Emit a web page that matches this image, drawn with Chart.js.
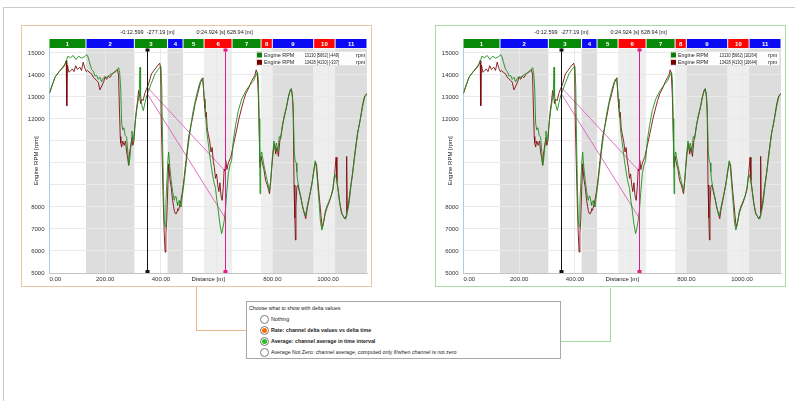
<!DOCTYPE html>
<html>
<head>
<meta charset="utf-8">
<script src="https://cdn.jsdelivr.net/npm/chart.js@4.4.1/dist/chart.umd.min.js"></script>
<style>
  html, body { margin: 0; padding: 0; background: #fff; }
  body { width: 795px; height: 401px; position: relative; overflow: hidden;
         font-family: "Liberation Sans", Arial, sans-serif; color: #222; }
  .rule { position: absolute; background: #c9c9c9; }
  .panel { position: absolute; top: 25px; width: 349px; height: 260px; border: 1px solid; }
  .panel canvas { display: block; }
  #panelRate { left: 21px; border-color: #e9c7a0; }
  #panelAvg  { left: 435px; border-color: #a6dca6; }
  .link { position: absolute; }
  #dlg { position: absolute; left: 246px; top: 301px; width: 313px; height: 56px;
         border: 1px solid #a9a9a9; background: #fff; }
  #dlg .t { position: absolute; left: 2px; top: 3px; font-size: 5.3px; line-height: 7px; white-space: nowrap; }
  #dlg .opt { position: absolute; left: 13px; height: 9px; white-space: nowrap; }
  #dlg .rb { position: absolute; left: 0; top: 0; width: 7px; height: 7px; border: 1px solid #7a7a7a;
             border-radius: 50%; background: #fff; }
  #dlg .rb i { position: absolute; left: 1px; top: 1px; width: 5px; height: 5px; border-radius: 50%; }
  #dlg .lbl { position: absolute; left: 11px; top: 1px; font-size: 5.3px; line-height: 7px; }
  #dlg .b { font-weight: bold; }
</style>
</head>
<body>
<div class="rule" style="left:3px;top:7px;width:792px;height:1px"></div>
<div class="rule" style="left:3px;top:7px;width:1px;height:394px"></div>

<div class="panel" id="panelRate"><canvas id="chartRate" width="349" height="260"></canvas></div>
<div class="panel" id="panelAvg"><canvas id="chartAvg" width="349" height="260"></canvas></div>

<!-- connectors from each panel to its option in the selector -->
<div class="link" style="left:196px;top:287px;width:1px;height:43px;background:#e6b98c"></div>
<div class="link" style="left:196px;top:330px;width:63px;height:1px;background:#e6b98c"></div>
<div class="link" style="left:610px;top:288px;width:1px;height:53px;background:#9fda9f"></div>
<div class="link" style="left:373px;top:341px;width:238px;height:1px;background:#9fda9f"></div>

<div id="dlg">
  <div class="t">Choose what to show with delta values</div>
  <div class="opt" style="top:13px"><span class="rb"></span><span class="lbl">Nothing</span></div>
  <div class="opt" style="top:24px"><span class="rb"><i style="background:#ff6a00"></i></span><span class="lbl b">Rate: channel delta values vs delta time</span></div>
  <div class="opt" style="top:35px"><span class="rb"><i style="background:#22c322"></i></span><span class="lbl b">Average: channel average in time interval</span></div>
  <div class="opt" style="top:46px"><span class="rb"></span><span class="lbl">Average Not Zero: channel average, computed only if/when channel is not zero</span></div>
</div>

<script>
// Lap segments along the distance axis
const segmentLabels = ['1', '2', '3', '4', '5', '6', '7', '8', '9', '10', '11'];
const segmentEnds = [131, 304.6, 424, 479.5, 555, 655.5, 759.7, 800, 948.6, 1025.5, 1140];
const segmentKinds = ['g', 'b', 'g', 'b', 'g', 'r', 'g', 'r', 'b', 'r', 'b'];

// Axis ticks (the last x tick only closes the axis and carries no label)
const xTicks = [0, 200, 400, 600, 800, 1000, 1140];
const yTicks = [5000, 6000, 7000, 8000, 9000, 10000, 11000, 12000, 13000, 14000, 15000];
const yTicksUnlabeled = [9000, 10000, 11000];

// Cursors (distance in m) and their readouts
const cursorDist = [351.75, 628.94];
const cursorText = ['-0:12.599  -277.19 [m]', '0:24.924 [s] 628.94 [m]'];

// Engine RPM, lap 1 (green)
const greenDist = [
  0, 10, 20, 35, 50, 56, 62, 66, 75, 85,
  95, 105, 115, 125, 134, 139, 143, 151, 158, 163,
  169, 175, 181, 187, 193, 199, 207, 215, 223, 230,
  237, 244, 248, 252, 256, 259, 263, 267, 272, 277,
  281, 285, 289, 293, 296, 299, 303, 308, 313, 318,
  322, 325, 327, 332, 337, 343, 349, 355, 365, 379,
  390, 400, 403, 406, 409, 412, 415, 418, 421, 425,
  428, 432, 437, 442, 448, 452, 455, 458, 460, 463,
  466, 469, 472, 478, 484, 490, 496, 505, 514, 523,
  532, 540, 546, 551, 555, 560, 565, 570, 578, 585,
  590, 596, 601, 606, 612, 618, 622, 627, 632, 636,
  642, 648, 654, 660, 668, 678, 690, 706, 720, 733,
  740, 747, 750, 753, 755, 756, 758, 762, 766, 770,
  778, 785, 790, 795, 800, 806, 810, 815, 820, 825,
  830, 835, 842, 850, 856, 862, 868, 872, 876, 879,
  882, 886, 888, 890, 895, 900, 906, 912, 918, 922,
  928, 935, 942, 948, 954, 958, 963, 968, 973, 978,
  983, 990, 998, 1005, 1012, 1018, 1024, 1030, 1036, 1042,
  1048, 1052, 1058, 1064, 1070, 1076, 1082, 1088, 1096, 1106,
  1115, 1125, 1132, 1140
];
const greenRpm = [
  13200, 13550, 13900, 14150, 14400, 14500, 14700, 14850, 14780, 14880,
  14700, 14850, 14760, 14820, 14920, 14800, 14600, 14250, 14150, 13950,
  13980, 13800, 13900, 13680, 13850, 13920, 13880, 14000, 14050, 14100,
  14180, 14250, 14330, 14100, 13300, 11800, 11500, 11600, 11250, 11170,
  10500, 9900, 10300, 10900, 11450, 11000, 11200, 11900, 12380, 12800,
  13100, 14350, 13050, 12600, 12380, 12750, 13050, 13250, 13600, 14050,
  14250, 14400, 13500, 11000, 9000, 7400, 7100, 8200, 9050, 10100,
  10490, 9800, 9200, 8700, 8300, 8500, 8450, 8200, 8070, 8250,
  8300, 8100, 8000, 8600, 9200, 9900, 10570, 11450, 12230, 12800,
  13290, 13650, 13820, 13650, 13100, 12300, 11400, 10900, 10100, 9500,
  9150, 8850, 8300, 7850, 7200, 6790, 7000, 7350, 7900, 8600,
  9510, 9900, 10110, 11020, 11700, 12380, 12900, 13290, 13550, 13740,
  13950, 14120, 13800, 12000, 10000, 8600, 10300, 10500, 10200, 9900,
  9400, 9000, 8750, 9300, 10200, 11000, 10600, 10900, 10500, 11200,
  11100, 11600, 12100, 12500, 12900, 13200, 13370, 13000, 12000, 10500,
  10100, 10000, 9600, 9300, 8900, 8600, 8200, 7850, 7600, 7800,
  8200, 8600, 9000, 9600, 10100, 9800, 9000, 8200, 7300, 6950,
  7200, 7800, 8100, 8300, 8500, 8900, 9500, 9300, 8800, 8200,
  7800, 7650, 7500, 7450, 7800, 8200, 8900, 9500, 10300, 11330,
  11920, 12600, 13000, 13150
];

// Engine RPM, lap 2 (dark red)
const redDist = [
  0, 10, 20, 35, 50, 56, 60, 62, 64, 70,
  76, 82, 88, 94, 100, 109, 115, 121, 127, 132,
  136, 145, 151, 157, 163, 169, 175, 181, 186, 191,
  195, 199, 205, 211, 217, 223, 230, 237, 244, 248,
  251, 254, 256, 259, 263, 268, 273, 277, 281, 284,
  287, 291, 296, 299, 303, 307, 311, 316, 320, 324,
  327, 331, 336, 342, 348, 355, 366, 375, 384, 390,
  396, 399, 401, 405, 409, 412, 415, 418, 421, 425,
  428, 432, 437, 442, 448, 452, 455, 458, 460, 463,
  466, 472, 478, 484, 490, 500, 514, 523, 532, 542,
  551, 553, 555, 558, 560, 563, 566, 570, 575, 580,
  584, 588, 592, 596, 600, 604, 608, 612, 616, 620,
  624, 627, 630, 633, 637, 642, 651, 660, 669, 680,
  690, 697, 705, 715, 725, 733, 738, 742, 746, 750,
  753, 756, 760, 764, 770, 776, 782, 786, 790, 794,
  798, 803, 808, 812, 817, 822, 827, 832, 838, 845,
  852, 858, 864, 868, 872, 875, 878, 881, 883, 885,
  888, 892, 897, 903, 909, 915, 920, 925, 931, 937,
  944, 950, 955, 959, 964, 969, 975, 979, 984, 990,
  997, 1004, 1011, 1018, 1024, 1029, 1032, 1037, 1043, 1049,
  1054, 1060, 1065, 1067, 1069, 1075, 1081, 1088, 1096, 1106,
  1115, 1125, 1132, 1140
];
const redRpm = [
  13150, 13550, 13900, 14150, 14350, 14500, 14650, 12600, 14450, 14120,
  14200, 14270, 14150, 14420, 14250, 14350, 14200, 14580, 14300, 14150,
  14200, 14100, 14050, 13900, 13820, 13750, 13670, 13320, 13450, 13590,
  13700, 13900, 13800, 13950, 13880, 14000, 14100, 14150, 14230, 14000,
  12500, 11200, 10900, 10720, 11000, 10800, 11000, 10500, 10200, 9890,
  10400, 10720, 11150, 10800, 11000, 11700, 12300, 12800, 13290, 13000,
  12700, 12900, 12830, 13150, 13350, 13550, 14050, 14200, 14350, 14450,
  14530, 14300, 12080, 10000, 8000, 6800, 5950, 6800, 7390, 9000,
  9960, 9300, 8900, 8300, 7840, 7700, 7690, 7800, 7920, 7850,
  8000, 8300, 8750, 9400, 10110, 11200, 12080, 12700, 13140, 13650,
  13870, 13400, 12900, 12500, 12080, 12300, 11600, 11300, 11000, 10500,
  10700, 10100, 9800, 9300, 9500, 9000, 8700, 9100, 8500, 8300,
  8900, 9700, 9640, 10110, 9700, 10000, 10260, 10800, 11320, 12000,
  12500, 12840, 13150, 13400, 13700, 13890, 14000, 14230, 14100, 13000,
  11300, 9800, 10300, 10000, 9700, 9200, 9000, 8800, 8600, 9100,
  9800, 10500, 10900, 10400, 10700, 10300, 11000, 11300, 11800, 12200,
  12600, 13000, 13300, 13370, 13100, 12500, 9000, 7500, 6500, 8000,
  8900, 9000, 8700, 8400, 8000, 7700, 7470, 7900, 8300, 8700,
  9200, 9700, 10040, 9900, 9100, 8400, 7600, 7090, 7300, 7700,
  8000, 8200, 8500, 8800, 9510, 10260, 9200, 8700, 8100, 7700,
  7600, 7470, 7600, 10300, 7800, 8300, 8900, 9510, 10400, 11330,
  11920, 12700, 13050, 13150
];

// Values read at the two cursors, joined by the delta lines
const greenCursorRpm = [13130, 7540];
const redCursorRpm = [13428, 9660];

// Legend rows per panel
const legendNames = ['Engine RPM', 'Engine RPM'];
const legendRate = ['13130 [5662] [-449]', '13428 [4130] [-337]'];
const legendAvg = ['13130 [5662] [10264]', '13428 [4130] [10644]'];

const PINK = '#e01d8d';
const segColor = { g: '#078a07', b: '#0a0af5', r: '#fb0606' };
const bandColor = { b: '#dddddd', r: '#eeeeee' };
const FONT = '"Liberation Sans", Arial, sans-serif';

Chart.defaults.font.family = FONT;
Chart.defaults.font.size = 6;
Chart.defaults.color = '#333';

const toPoints = (xs, ys) => xs.map((x, i) => ({ x, y: ys[i] }));

// text squeezed horizontally by sx, anchored at (x, y)
function narrowText(ctx, text, x, y, sx, align) {
  ctx.save();
  ctx.translate(x, y);
  ctx.scale(sx, 1);
  ctx.textAlign = align;
  ctx.fillText(text, 0, 0);
  ctx.restore();
}

const panelDeco = {
  id: 'panelDeco',
  beforeDraw(chart) {
    const { ctx, chartArea: a, scales: { x } } = chart;
    ctx.save();
    let start = 0;
    segmentEnds.forEach((end, i) => {
      const c = bandColor[segmentKinds[i]];
      if (c) {
        const x0 = x.getPixelForValue(start), x1 = x.getPixelForValue(end);
        ctx.fillStyle = c;
        ctx.fillRect(x0, a.top, x1 - x0, a.bottom - a.top);
      }
      start = end;
    });
    ctx.restore();
  },
  afterDatasetsDraw(chart) {
    const { ctx, chartArea: a, scales: { x } } = chart;
    ctx.save();
    [['#111', cursorDist[0]], [PINK, cursorDist[1]]].forEach(([col, d]) => {
      const px = Math.round(x.getPixelForValue(d)) + 0.5;
      ctx.strokeStyle = col;
      ctx.lineWidth = 1;
      ctx.beginPath();
      ctx.moveTo(px, a.top);
      ctx.lineTo(px, a.bottom);
      ctx.stroke();
      ctx.fillStyle = col;
      ctx.fillRect(px - 2, a.top, 4, 3);
      ctx.fillRect(px - 2, a.bottom - 3, 4, 3);
    });
    ctx.restore();
  },
  afterDraw(chart, args, opts) {
    const { ctx, chartArea: a, scales: { x } } = chart;
    ctx.save();
    // segment bar
    const barTop = a.top - 9.5, barH = 9;
    let start = 0;
    ctx.textAlign = 'center';
    ctx.textBaseline = 'middle';
    segmentEnds.forEach((end, i) => {
      const x0 = x.getPixelForValue(start) + (i ? 0.5 : 0);
      const x1 = x.getPixelForValue(end) - 0.5;
      ctx.fillStyle = segColor[segmentKinds[i]];
      ctx.fillRect(x0, barTop, x1 - x0, barH);
      ctx.fillStyle = '#fff';
      ctx.font = 'bold 6px ' + FONT;
      ctx.fillText(segmentLabels[i], (x0 + x1) / 2, barTop + barH / 2 + 0.5);
      start = end;
    });
    // cursor readouts
    ctx.fillStyle = '#222';
    ctx.font = '6px ' + FONT;
    cursorDist.forEach((d, i) => {
      narrowText(ctx, cursorText[i], x.getPixelForValue(d), 6.5, 0.92, 'center');
    });
    // axis titles
    ctx.fillText('Distance [m]', (a.left + a.right) / 2, a.bottom + 6.5);
    ctx.save();
    ctx.translate(14.5, (a.top + a.bottom) / 2);
    ctx.rotate(-Math.PI / 2);
    ctx.fillText('Engine RPM [rpm]', 0, 0);
    ctx.restore();
    // legend
    const lx = a.right - 111, ly = a.top + 2.5;
    ctx.fillStyle = 'rgba(255,255,255,0.92)';
    ctx.fillRect(lx, ly, 110, 15);
    ctx.strokeStyle = '#e4e4e4';
    ctx.strokeRect(lx + 0.5, ly + 0.5, 109, 14);
    ['#0b7d0b', '#7a0000'].forEach((col, i) => {
      const cy = ly + 4 + i * 7.3;
      ctx.fillStyle = col;
      ctx.fillRect(lx + 1, cy - 2.5, 5, 5);
      ctx.fillStyle = '#222';
      narrowText(ctx, legendNames[i], lx + 8, cy + 0.5, 0.9, 'left');
      narrowText(ctx, opts.values[i], lx + opts.valueEnd, cy + 0.5, 0.66, 'right');
      narrowText(ctx, 'rpm', lx + opts.unitAt, cy + 0.5, 0.9, 'left');
    });
    ctx.restore();
  }
};

function makePanel(canvasId, legendValues, valueEnd, unitAt) {
  return new Chart(document.getElementById(canvasId), {
    type: 'line',
    data: {
      datasets: [
        { data: toPoints(greenDist, greenRpm), borderColor: 'rgba(31,143,31,0.9)', borderWidth: 1, pointRadius: 0 },
        { data: toPoints(redDist, redRpm), borderColor: 'rgba(125,10,10,0.88)', borderWidth: 1, pointRadius: 0 },
        { data: toPoints(cursorDist, greenCursorRpm), borderColor: 'rgba(222,96,190,0.9)', borderWidth: 1, pointRadius: 0 },
        { data: toPoints(cursorDist, redCursorRpm), borderColor: 'rgba(222,96,190,0.9)', borderWidth: 1, pointRadius: 0 }
      ]
    },
    options: {
      responsive: false,
      animation: false,
      events: [],
      parsing: false,
      layout: { padding: { top: 22.5, right: 4, left: 0, bottom: 0 } },
      plugins: {
        legend: { display: false },
        tooltip: { enabled: false },
        panelDeco: { values: legendValues, valueEnd, unitAt }
      },
      scales: {
        x: {
          type: 'linear', min: 0, max: 1140,
          afterBuildTicks: s => { s.ticks = xTicks.map(v => ({ value: v })); },
          afterFit: s => { s.height = 13; },
          grid: { color: ctx => (ctx.tick && ctx.tick.value === 1140 ? 'rgba(0,0,0,0)' : '#e9e9e9'), drawTicks: false },
          border: { color: '#c4c4c4' },
          ticks: { padding: 3, maxRotation: 0, autoSkip: false, color: '#333', align: 'inner',
                   callback: v => (v === 600 || v === 1140 ? '' : v.toFixed(2)) }
        },
        y: {
          type: 'linear', min: 5000, max: 15200,
          afterBuildTicks: s => { s.ticks = yTicks.map(v => ({ value: v })); },
          afterFit: s => { s.width = 27.5; },
          grid: { color: '#e9e9e9', drawTicks: false },
          border: { color: '#a9cfe6' },
          ticks: { padding: 5, color: '#333',
                   callback: v => (yTicksUnlabeled.includes(v) ? '' : String(v)) }
        }
      }
    },
    plugins: [panelDeco]
  });
}

makePanel('chartRate', legendRate, 83, 100);
makePanel('chartAvg', legendAvg, 87, 98);
</script>
</body>
</html>
